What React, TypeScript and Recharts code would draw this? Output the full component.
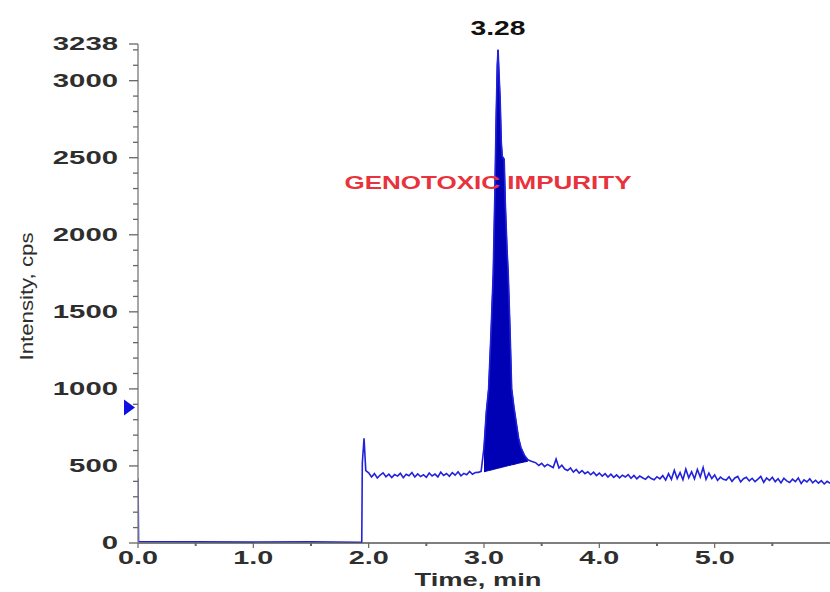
import { ComposedChart, Line, Area, XAxis, YAxis, ReferenceDot } from 'recharts'

// trace before the solvent front
const preTimes = [0, 0.005, 0.5, 1.0, 1.5, 1.9, 1.93, 1.94, 1.941, 1.945, 1.96, 1.975]
const preValues = [420, 10, 8, 6, 8, 5, 4, 4, 100, 520, 680, 470]

// baseline noise from 2.000 to 2.925 min, every 0.025 min
const earlyNoise = [
  455, 428, 450, 422, 441, 455, 430, 447, 425, 444, 434, 452, 424, 446, 436, 457, 428, 448, 431,
  443, 426, 454, 435, 447, 429, 460, 438, 451, 433, 457, 440, 462, 436, 452, 443, 464, 446, 457,
]

// the impurity peak
const peakTimes = [
  2.95, 2.975, 3.0, 3.02, 3.04, 3.06, 3.08, 3.095, 3.105, 3.115, 3.122, 3.13, 3.14, 3.15, 3.158,
  3.175, 3.185, 3.2, 3.21, 3.225, 3.24, 3.26, 3.28, 3.3, 3.32, 3.35, 3.38, 3.41, 3.43,
]
const peakValues = [
  458, 465, 620, 850, 1000, 1350, 1750, 2300, 2750, 3100, 3200, 3050, 2880, 2600, 2510,
  2490, 2200, 1900, 1750, 1400, 1000, 880, 780, 680, 620, 570, 540, 530, 525,
]
const peakBase = [
  null, null, 462, 466, 470, 473, 477, 480, 482, 484, 485, 487, 488, 490, 492,
  495, 497, 500, 502, 504, 507, 510, 514, 518, 521, 526, 530, null, null,
]

// baseline noise from 3.450 to 6.000 min, every 0.025 min
const lateNoise = [
  520, 503, 517, 496, 510, 500, 490, 545, 486, 505, 480,
  470, 487, 460, 477, 453, 470, 450, 462, 443, 460, 438,
  454, 434, 450, 428, 447, 426, 442, 423, 440, 428, 444,
  420, 438, 416, 434, 423, 413, 432, 418, 410, 430, 416,
  437, 408, 450, 413, 472, 418, 457, 410, 480, 423, 462,
  416, 477, 428, 490, 413, 454, 418, 442, 406, 427, 413,
  408, 430, 400, 422, 432, 396, 417, 427, 403, 420, 398,
  414, 432, 393, 422, 406, 427, 398, 417, 390, 420, 403,
  393, 414, 398, 422, 386, 410, 396, 417, 390, 407, 388,
  404, 383, 400, 388,
]

const yLabelTicks = [0, 500, 1000, 1500, 2000, 2500, 3000, 3238]
const yMinorTicks = Array.from({ length: 33 }, (_, i) => i * 100)
const xTicks = [0, 0.5, 1, 1.5, 2, 2.5, 3, 3.5, 4, 4.5, 5, 5.5]

const apexTime = 3.122
const apexValue = 3200
const peakLabel = '3.28'
const markerValue = 880

type Row = { t: number; v: number; band?: [number, number] }

const rows: Row[] = []
preTimes.forEach((t, i) => rows.push({ t, v: preValues[i] }))
earlyNoise.forEach((v, i) => rows.push({ t: +(2 + i * 0.025).toFixed(3), v }))
peakTimes.forEach((t, i) => {
  const b = peakBase[i]
  rows.push({ t, v: peakValues[i], band: b == null ? undefined : [b, peakValues[i]] })
})
lateNoise.forEach((v, i) => rows.push({ t: +(3.45 + i * 0.025).toFixed(3), v }))

const font = '"Liberation Sans", Arial, sans-serif'
const tickColor = '#2e2e2e'
const trace = '#2222dc'
const fill = '#0000b4'

function YTick(props: any) {
  const { x, y, payload } = props
  const v = payload.value as number
  const major = yLabelTicks.includes(v)
  const label = String(v)
  return (
    <g>
      <line x1={x - (major ? 9 : 5)} x2={x} y1={y} y2={y} stroke="#666" strokeWidth={1.3} />
      {major && (
        <text
          x={x - 20}
          y={y + 6}
          textAnchor="end"
          fontFamily={font}
          fontWeight={700}
          fontSize={18}
          fill={tickColor}
          textLength={label.length * 16.3}
          lengthAdjust="spacingAndGlyphs"
        >
          {label}
        </text>
      )}
    </g>
  )
}

function XTick(props: any) {
  const { x, y, payload } = props
  const v = payload.value as number
  const major = Number.isInteger(v)
  return (
    <g>
      <line x1={x} x2={x} y1={y} y2={y + (major ? 5 : 3)} stroke="#666" strokeWidth={major ? 1.2 : 2} />
      {major && (
        <text
          x={x}
          y={y + 21}
          textAnchor="middle"
          fontFamily={font}
          fontWeight={700}
          fontSize={18}
          fill={tickColor}
          textLength={40}
          lengthAdjust="spacingAndGlyphs"
        >
          {v.toFixed(1)}
        </text>
      )}
    </g>
  )
}

export default function App() {
  return (
    <div style={{ position: 'absolute', left: 0, top: 0, background: '#fff' }}>
      <ComposedChart
        width={830}
        height={592}
        data={rows}
        margin={{ top: 44, right: 0, bottom: 0, left: 0 }}
      >
        <XAxis
          type="number"
          dataKey="t"
          domain={[0, 6]}
          ticks={xTicks}
          allowDataOverflow
          height={49}
          tickSize={0}
          tickMargin={0}
          tick={<XTick />}
          axisLine={{ stroke: '#555', strokeWidth: 1.5 }}
          label={{
            content: ({ viewBox }: any) => (
              <text
                x={viewBox.x + viewBox.width / 2 - 6}
                y={viewBox.y + 43}
                textAnchor="middle"
                fontFamily={font}
                fontWeight={700}
                fontSize={18}
                fill={tickColor}
                textLength={127}
                lengthAdjust="spacingAndGlyphs"
              >
                Time, min
              </text>
            ),
          }}
        />
        <YAxis
          type="number"
          domain={[0, 3238]}
          ticks={[...yMinorTicks, 3238]}
          allowDataOverflow
          width={138}
          tickSize={0}
          tickMargin={0}
          tick={<YTick />}
          interval={0}
          axisLine={{ stroke: '#8a8a8a', strokeWidth: 1.5 }}
          label={{
            content: ({ viewBox }: any) => {
              const cx = 27
              const cy = viewBox.y + viewBox.height / 2 + 3
              return (
                <text
                  x={cx}
                  y={cy}
                  transform={`rotate(-90 ${cx} ${cy})`}
                  textAnchor="middle"
                  dominantBaseline="central"
                  fontFamily={font}
                  fontSize={18}
                  fill={tickColor}
                  textLength={128}
                  lengthAdjust="spacingAndGlyphs"
                >
                  Intensity, cps
                </text>
              )
            },
          }}
        />
        <ReferenceDot
          x={3.035}
          y={2340}
          r={0}
          label={{
            content: ({ viewBox }: any) => (
              <text
                x={viewBox.x}
                y={viewBox.y + 7}
                textAnchor="middle"
                fontFamily={font}
                fontWeight={700}
                fontSize={19}
                fill="#e8323c"
                textLength={287}
                lengthAdjust="spacingAndGlyphs"
              >
                GENOTOXIC IMPURITY
              </text>
            ),
          }}
        />
        <Area
          dataKey="band"
          type="linear"
          stroke={fill}
          strokeWidth={1}
          fill={fill}
          fillOpacity={1}
          isAnimationActive={false}
          connectNulls={false}
        />
        <Line
          dataKey="v"
          type="linear"
          stroke={trace}
          strokeWidth={1.6}
          dot={false}
          isAnimationActive={false}
        />
        <ReferenceDot
          x={apexTime}
          y={apexValue}
          r={0}
          label={{
            content: ({ viewBox }: any) => (
              <text
                x={viewBox.x}
                y={viewBox.y - 15}
                textAnchor="middle"
                fontFamily={font}
                fontWeight={700}
                fontSize={20}
                fill="#111"
                textLength={55}
                lengthAdjust="spacingAndGlyphs"
              >
                {peakLabel}
              </text>
            ),
          }}
        />
        <ReferenceDot
          x={0}
          y={markerValue}
          ifOverflow="visible"
          shape={(p: any) => (
            <polygon
              points={`${p.cx - 14},${p.cy - 8} ${p.cx - 14},${p.cy + 8} ${p.cx - 3},${p.cy}`}
              fill="#1010e0"
            />
          )}
        />
      </ComposedChart>
    </div>
  )
}
